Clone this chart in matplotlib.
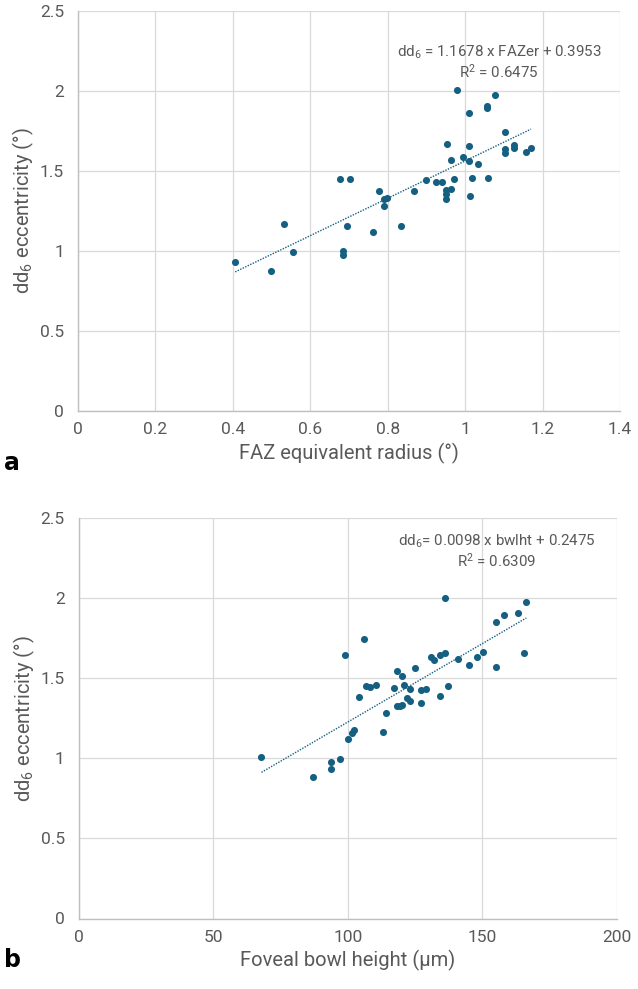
import matplotlib
matplotlib.use("Agg")
import matplotlib.pyplot as plt
import numpy as np

plt.rcParams['font.family'] = ['Roboto', 'DejaVu Sans']

# ---- Data panel a ----
faz_er = [1.010, 1.056, 1.056, 1.103, 0.952, 1.010, 1.103, 1.103, 1.125, 1.125,
          1.157, 1.170, 0.964, 0.994, 1.011, 1.033, 0.899, 0.924, 0.940, 0.970,
          1.019, 1.059, 0.951, 0.963, 0.951, 0.951, 1.013, 0.869, 0.799, 0.790,
          0.790, 0.777, 0.834, 0.978, 1.077, 0.406, 0.498, 0.533, 0.555, 0.684,
          0.684, 0.696, 0.763, 0.676, 0.703]
dd6_a = [1.861, 1.906, 1.892, 1.746, 1.667, 1.658, 1.635, 1.615, 1.662, 1.646,
         1.621, 1.642, 1.567, 1.588, 1.563, 1.546, 1.442, 1.429, 1.433, 1.452,
         1.458, 1.458, 1.381, 1.387, 1.354, 1.327, 1.344, 1.373, 1.329, 1.323,
         1.283, 1.376, 1.156, 2.006, 1.975, 0.933, 0.875, 1.171, 0.992, 1.000,
         0.975, 1.154, 1.121, 1.452, 1.448]
slope_a, icpt_a, r2_a = 1.1678, 0.3953, 0.6475

# ---- Data panel b ----
bwlht = [136.1, 166.3, 163.2, 157.9, 154.9, 131.0, 131.9, 134.1, 136.1, 141.1,
         145.0, 148.0, 150.1, 154.9, 165.3, 118.1, 120.1, 125.1, 117.1, 121.0,
         123.1, 127.0, 129.1, 137.1, 134.1, 122.0, 123.0, 118.1, 119.5, 120.3,
         127.0, 114.0, 113.1, 106.0, 98.8, 106.9, 108.4, 110.3, 104.2, 102.2,
         101.4, 99.9, 67.9, 97.0, 93.9, 93.9, 86.9]
dd6_b = [2.003, 1.975, 1.907, 1.893, 1.855, 1.632, 1.613, 1.648, 1.661, 1.623,
         1.584, 1.634, 1.667, 1.570, 1.656, 1.545, 1.514, 1.565, 1.443, 1.460,
         1.431, 1.427, 1.433, 1.454, 1.389, 1.379, 1.358, 1.329, 1.327, 1.331,
         1.344, 1.286, 1.162, 1.743, 1.644, 1.453, 1.447, 1.460, 1.381, 1.178,
         1.158, 1.122, 1.009, 0.998, 0.978, 0.934, 0.882]
slope_b, icpt_b, r2_b = 0.0098, 0.2475, 0.6309

xticks_a = [0, 0.2, 0.4, 0.6, 0.8, 1, 1.2, 1.4]
xticklabels_a = ['0', '0.2', '0.4', '0.6', '0.8', '1', '1.2', '1.4']
xticks_b = [0, 50, 100, 150, 200]
xticklabels_b = ['0', '50', '100', '150', '200']
yticks = [0, 0.5, 1, 1.5, 2, 2.5]
yticklabels = ['0', '0.5', '1', '1.5', '2', '2.5']

MARK = '#156082'
TXT = '#595959'
GRID = '#D9D9D9'
AX = '#BFBFBF'

W, H = 638, 989
fig = plt.figure(figsize=(W / 100, H / 100), dpi=100)

def px_axes(l, t, r, b):
    return fig.add_axes([l / W, 1 - b / H, (r - l) / W, (b - t) / H])

def style(ax, xt, xtl, xlab):
    ax.set_yticks(yticks)
    ax.set_yticklabels(yticklabels)
    ax.set_xticks(xt)
    ax.set_xticklabels(xtl)
    ax.set_xlim(xt[0], xt[-1])
    ax.set_ylim(0, 2.5)
    ax.grid(True, color=GRID, lw=0.9)
    ax.set_axisbelow(True)
    for s in ['top', 'right']:
        ax.spines[s].set_visible(False)
    for s in ['left', 'bottom']:
        ax.spines[s].set_color(AX)
        ax.spines[s].set_linewidth(1.0)
    ax.tick_params(length=0, labelsize=12.5, labelcolor=TXT)
    ax.tick_params(axis='y', pad=10)
    ax.tick_params(axis='x', pad=8)
    ax.set_xlabel(xlab, fontsize=14.5, color=TXT, labelpad=4)
    ax.set_ylabel(r'$\mathregular{dd_6}$ eccentricity (°)', fontsize=14.5, color=TXT, labelpad=3)

# Panel a
ax1 = px_axes(78, 11, 620, 411)
style(ax1, xticks_a, xticklabels_a, 'FAZ equivalent radius (°)')
ax1.scatter(faz_er, dd6_a, s=26, color=MARK, zorder=3, linewidths=0)
xa = np.array([min(faz_er), max(faz_er)])
ax1.plot(xa, slope_a * xa + icpt_a, ls=(0, (1, 1)), color=MARK, lw=1.0, zorder=2)
ax1.text(0.777, 0.8975, r'$\mathregular{dd_6}$ = %.4f x FAZer + %.4f' % (slope_a, icpt_a),
         transform=ax1.transAxes, ha='center', va='center', fontsize=10.9, color=TXT)
ax1.text(0.777, 0.8475, r'$\mathregular{R^2}$ = %.4f' % r2_a,
         transform=ax1.transAxes, ha='center', va='center', fontsize=10.9, color=TXT)

# Panel b
ax2 = px_axes(78.7, 518.3, 617, 918.5)
style(ax2, xticks_b, xticklabels_b, 'Foveal bowl height (µm)')
ax2.scatter(bwlht, dd6_b, s=26, color=MARK, zorder=3, linewidths=0)
xb = np.array([min(bwlht), max(bwlht)])
ax2.plot(xb, slope_b * xb + icpt_b, ls=(0, (1, 1)), color=MARK, lw=1.0, zorder=2)
ax2.text(0.777, 0.9415, r'$\mathregular{dd_6}$= %.4f x bwlht + %.4f' % (slope_b, icpt_b),
         transform=ax2.transAxes, ha='center', va='center', fontsize=10.9, color=TXT)
ax2.text(0.777, 0.893, r'$\mathregular{R^2}$ = %.4f' % r2_b,
         transform=ax2.transAxes, ha='center', va='center', fontsize=10.9, color=TXT)

fig.text(12 / W, 1 - 463 / H, 'a', fontsize=17, fontweight='bold', color='black',
         ha='center', va='center', family=['DejaVu Sans'])
fig.text(12 / W, 1 - 960 / H, 'b', fontsize=17, fontweight='bold', color='black',
         ha='center', va='center', family=['DejaVu Sans'])

fig.savefig('out.png', dpi=100)
